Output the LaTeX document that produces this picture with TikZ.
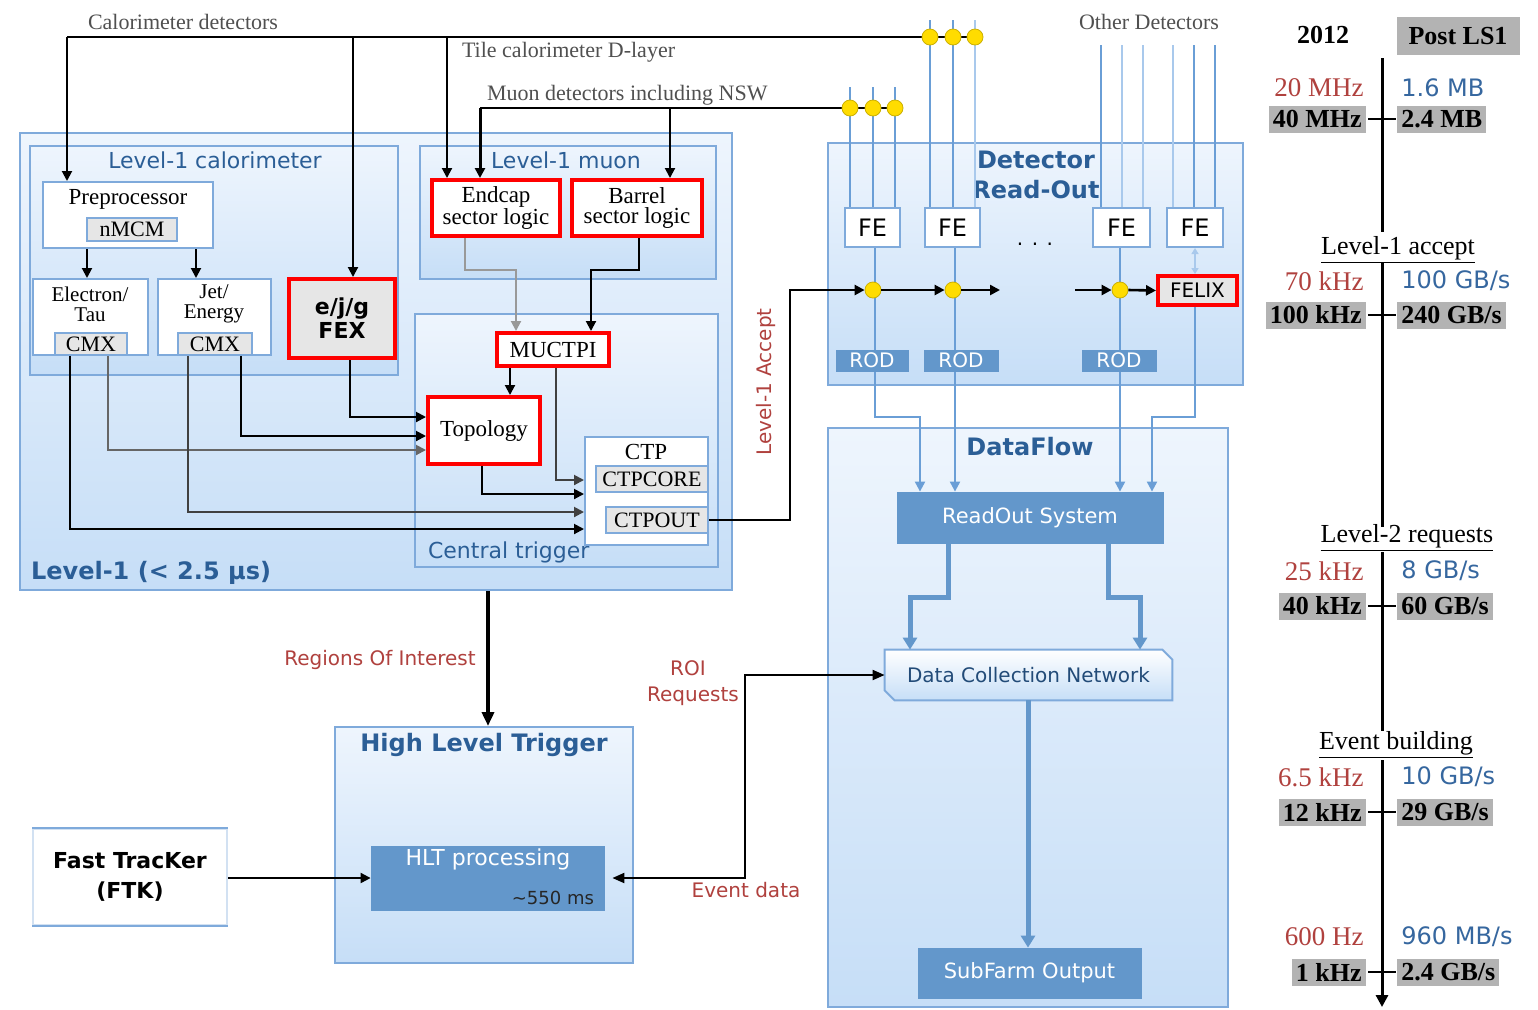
\documentclass[tikz,border=0pt]{standalone}
\usepackage{fontspec}
\setmainfont{Liberation Serif}
\setsansfont{DejaVu Sans}
\usetikzlibrary{arrows.meta,calc}
\definecolor{lbTop}{HTML}{EEF5FD}
\definecolor{lbBot}{HTML}{C6DEF7}
\definecolor{bord}{HTML}{7FAADB}
\definecolor{ttlblue}{HTML}{2B5E96}
\definecolor{solid}{HTML}{6397CB}
\definecolor{labred}{HTML}{B0413E}
\definecolor{numblue}{HTML}{36679F}
\definecolor{gbg}{HTML}{B3B3B3}
\definecolor{ig}{HTML}{E6E6E6}
\definecolor{detl}{HTML}{6A9ED6}
\definecolor{detll}{HTML}{A9C9EC}
\definecolor{dotY}{HTML}{FFDC00}
\definecolor{txtgray}{HTML}{505050}
\newcommand\fs[2]{\fontsize{#1}{#2}\selectfont}
% box from corner (x1,y1) to (x2,y2) in picture pixels
\newcommand\bx[7]{\node[#6,minimum width={(#4-#2)*0.5pt},minimum height={(#5-#3)*0.5pt}] (#1) at ({(#2+#4)/2},{(#3+#5)/2}) {#7};}
\newcommand\raterow[7]{%
  \node[redr,anchor=east] (#7r) at (1364,#1) {#3};
  \node[bluer,anchor=west] (#7b) at (1401,#1) {#4};
  \node[grayr,anchor=east] (#7l) at (1366,#2) {#5};
  \node[grayr,anchor=west] (#7g) at (1397,#2) {#6};
  \draw[line width=1.2pt] (1368,#2) -- (1396,#2);
}
\begin{document}
\begin{tikzpicture}[x=0.5pt,y=-0.5pt,
  grp/.style={draw=bord,line width=1pt,top color=lbTop,bottom color=lbBot,inner sep=0pt},
  wbox/.style={draw=bord,line width=1pt,fill=white,inner sep=0pt},
  gbox/.style={draw=bord,line width=0.8pt,fill=ig,inner sep=0pt,font=\fs{11}{12}},
  rbox/.style={draw=red,line width=2pt,fill=white,inner sep=0pt},
  sbox/.style={fill=solid,draw=solid,inner sep=0pt,text=white},
  btxt/.style={font=\fs{11.5}{10},align=center},
  ttl/.style={font=\sffamily\fs{11}{12},text=ttlblue},
  bttl/.style={font=\sffamily\bfseries\fs{12}{15},text=ttlblue,align=center},
  toplab/.style={font=\fs{11}{12},text=txtgray},
  fetxt/.style={font=\sffamily\fs{12}{12}},
  blk/.style={line width=1pt,draw=black},
  gline/.style={line width=1pt,draw=black!40},
  arr/.style={-{Triangle[length=5pt,width=5pt]}},
  arrB/.style={-{Triangle[length=6pt,width=7pt]}},
  dline/.style={line width=1pt,draw=detl},
  dlight/.style={line width=1pt,draw=detll},
  dfl/.style={line width=2.5pt,draw=solid},
  ydot/.style={circle,fill=dotY,draw=dotY!80!black,line width=0.4pt,minimum size=8pt,inner sep=0pt},
  redl/.style={text=labred,font=\sffamily\fs{10}{12}},
  redr/.style={text=labred,font=\fs{13.5}{14},inner sep=0pt},
  bluer/.style={text=numblue,font=\sffamily\fs{12}{14},inner sep=0pt},
  grayr/.style={fill=gbg,font=\bfseries\fs{13}{14},inner xsep=2pt,inner ysep=0pt,minimum height=13.5pt},
]
\fill[white] (0,0) rectangle (1538,1009);
\useasboundingbox (0,0) rectangle (1538,1009);

% ---------- group boxes
\bx{L1}{20}{133}{732}{590}{grp}{}
\bx{L1c}{30}{146}{398}{375}{grp}{}
\bx{L1m}{420}{146}{716}{279}{grp}{}
\bx{CT}{415}{314}{718}{567}{grp}{}
\bx{DRO}{828}{143}{1243}{385}{grp}{}
\bx{DF}{828}{428}{1228}{1007}{grp}{}
\bx{HLT}{335}{727}{633}{963}{grp}{}

\node[ttl] (tL1c) at (215,160) {Level-1 calorimeter};
\node[ttl] (tL1m) at (566,160) {Level-1 muon};
\node[ttl,anchor=west] (tCT) at (421,552) {Central trigger};
\node[ttl,font=\sffamily\bfseries\fs{12}{14},anchor=west] (tL1) at (24,573) {Level-1 (< 2.5 μs)};
\node[bttl] (tDRO) at (1036,175) {Detector\\Read-Out};
\node[bttl] (tDF) at (1030,447) {DataFlow};
\node[bttl] (tHLT) at (484,745) {High Level Trigger};

% ---------- level-1 calorimeter
\bx{pre}{43}{182}{213}{248}{wbox}{}
\node[btxt] (tpre) at (128,199) {Preprocessor};
\bx{nmcm}{87}{218}{177}{241}{gbox}{nMCM}
\bx{et}{33}{279}{148}{355}{wbox}{}
\node[btxt,font=\fs{10.5}{10}] (tet) at (90,304) {Electron/\\Tau};
\bx{cmx1}{55}{333}{127}{355}{gbox}{CMX}
\bx{je}{158}{279}{271}{355}{wbox}{}
\node[btxt,font=\fs{10.5}{10}] (tje) at (214,304) {Jet/\\Energy};
\bx{cmx2}{178}{333}{252}{355}{gbox}{CMX}
\bx{fex}{289}{279}{395}{358}{rbox,fill=ig,font=\sffamily\bfseries\fs{11}{12},align=center}{e/j/g\\FEX}

% ---------- level-1 muon and central trigger
\bx{endc}{432}{180}{560}{236}{rbox,btxt}{Endcap\\sector logic}
\bx{barr}{572}{180}{702}{236}{rbox,btxt}{Barrel\\sector logic}
\bx{muctpi}{497}{333}{609}{366}{rbox,btxt}{MUCTPI}
\bx{topo}{428}{397}{540}{464}{rbox,btxt}{Topology}
\bx{ctp}{585}{437}{708}{545}{wbox}{}
\node[btxt] (tctp) at (646,452) {CTP};
\bx{ctpcore}{596}{466}{708}{492}{gbox}{CTPCORE}
\bx{ctpout}{606}{507}{708}{533}{gbox}{CTPOUT}

% ---------- top labels
\node[toplab] (lcal) at (183,22) {Calorimeter detectors};
\node[toplab,anchor=west] (ltile) at (455,52) {Tile calorimeter D-layer};
\node[toplab,anchor=west] (lmuon) at (480,95) {Muon detectors including NSW};
\node[toplab] (loth) at (1149,22) {Other Detectors};

% ---------- detector read-out
\bx{fe1}{845}{208}{900}{247}{wbox,fetxt}{FE}
\bx{fe2}{925}{208}{980}{247}{wbox,fetxt}{FE}
\bx{fe3}{1093}{208}{1150}{247}{wbox,fetxt}{FE}
\bx{fe4}{1167}{208}{1223}{247}{wbox,fetxt}{FE}
\node[font=\sffamily\fs{10}{10}] (fedots) at (1035,244) {. . .};

% detector input lines
\foreach \x/\s in {850/dline,873/dline,895/dline} \draw[\s] (\x,87) -- (fe1.north -| \x,0);
\foreach \x/\s in {930/dline,953/dline,975/dlight} \draw[\s] (\x,20) -- (fe2.north -| \x,0);
\foreach \x/\s in {1101/dline,1122/dlight,1143/dlight} \draw[\s] (\x,45) -- (fe3.north -| \x,0);
\foreach \x/\s in {1173/dlight,1194/dline,1215/dline} \draw[\s] (\x,45) -- (fe4.north -| \x,0);

% read-out lines to ROS
\bx{felix}{1158}{276}{1237}{305}{rbox,fill=ig,font=\sffamily\fs{10}{12}}{FELIX}
\bx{ros}{897}{492}{1163}{543}{sbox,font=\sffamily\fs{10.5}{12}}{ReadOut System}
\draw[dline,arr] (fe1.south -| 875,0) -- (875,417) -- (920,417) -- (ros.north -| 920,0);
\draw[dline,arr] (fe2.south -| 955,0) -- (ros.north -| 955,0);
\draw[dline,arr] (fe3.south -| 1120,0) -- (ros.north -| 1120,0);
\draw[dline,arr] (felix.south -| 1195,0) -- (1195,417) -- (1152,417) -- (ros.north -| 1152,0);
\draw[dlight,{Triangle[length=3pt,width=3.5pt]}-{Triangle[length=3pt,width=3.5pt]}] (fe4.south -| 1195,0) -- (felix.north -| 1195,0);
\bx{rod1}{836}{350}{908}{371}{sbox,font=\sffamily\fs{10}{12}}{ROD}
\bx{rod2}{924}{350}{998}{371}{sbox,font=\sffamily\fs{10}{12}}{ROD}
\bx{rod3}{1082}{350}{1156}{371}{sbox,font=\sffamily\fs{10}{12}}{ROD}

% ---------- dataflow
\bx{dcn}{885}{650}{1172}{700}{inner sep=0pt}{}
\path[draw=bord,line width=1pt,top color=white,bottom color=lbBot]
  (dcn.north west) -- ([xshift=-5pt]dcn.north east) -- ([yshift=-5pt]dcn.north east)
  -- (dcn.south east) -- ([xshift=5pt]dcn.south west) -- ([yshift=5pt]dcn.south west) -- cycle;
\node[font=\sffamily\fs{10}{12},text=ttlblue!80!black] (tdcn) at (dcn.center) {Data Collection Network};
\bx{sfo}{918}{948}{1141}{998}{sbox,font=\sffamily\fs{10.5}{12}}{SubFarm Output}
\draw[dfl,arrB] (ros.south -| 948,0) -- (948,597) -- (910,597) -- (dcn.north -| 910,0);
\draw[dfl,arrB] (ros.south -| 1108,0) -- (1108,597) -- (1140,597) -- (dcn.north -| 1140,0);
\draw[dfl,arrB] (dcn.south -| 1028,0) -- (sfo.north -| 1028,0);

% ---------- HLT and FTK
\bx{hltp}{371}{846}{604}{910}{sbox}{}
\node[text=white,font=\sffamily\fs{11}{12}] (thltp) at (488,859) {HLT processing};
\node[font=\sffamily\fs{9}{10},text=black!85,anchor=east] (t550) at (601,898) {\textasciitilde 550 ms};
\bx{ftk}{33}{829}{227}{925}{wbox,draw=bord!35,font=\sffamily\bfseries\fs{11}{15},align=center}{Fast TracKer\\(FTK)}
\draw[bord,line width=1.2pt] (ftk.north west) -- (ftk.north east);
\draw[bord,line width=1.2pt] (ftk.south west) -- (ftk.south east);
\draw[blk,arr] (ftk.east |- 0,878) -- (hltp.west |- 0,878);
\draw[line width=2pt,-{Triangle[length=7pt,width=6pt]}] (L1.south -| 488,0) -- (HLT.north -| 488,0);
\node[redl] (lroi) at (380,660) {Regions Of Interest};
\draw[blk,{Triangle[length=6pt,width=5pt]}-{Triangle[length=6pt,width=5pt]}] ([xshift=4pt]hltp.east) -- (745,878) -- (745,675) -- (dcn.west);
\node[redl] (lroir1) at (688,668) {ROI};
\node[redl] (lroir2) at (693,696) {Requests};
\node[redl] (levd) at (746,890) {Event data};
\node[redl,rotate=90] (ll1a) at (766,382) {Level-1 Accept};

% ---------- top input connectors
\coordinate (c0) at (67,37);
\coordinate (c1) at (353,37);
\coordinate (c2) at (447,37);
\coordinate (m0) at (480,108);
\coordinate (m1) at (670,108);
\draw[blk] (c0) -- (975,37);
\draw[blk,arr] (c0) -- (pre.north -| c0);
\draw[blk,arr] (c1) -- (c1 |- fex.north);
\draw[blk,arr] (c2) -- (c2 |- endc.north);
\draw[blk] (m0) -- (895,108);
\draw[line width=1.5pt,arr] (m0) -- (m0 |- endc.north);
\draw[blk,arr] (m1) -- (m1 |- barr.north);
\node[ydot] (cd1) at (930,37) {};
\node[ydot] (cd2) at (953,37) {};
\node[ydot] (cd3) at (975,37) {};
\node[ydot] (md1) at (850,108) {};
\node[ydot] (md2) at (873,108) {};
\node[ydot] (md3) at (895,108) {};

% ---------- level-1 internal connectors
\draw[blk,arr] (pre.south -| 87,0) -- (et.north -| 87,0);
\draw[blk,arr] (pre.south -| 196,0) -- (je.north -| 196,0);
\draw[gline,arr] (endc.south -| 465,0) -- (465,270) -- (516,270) -- (muctpi.north -| 516,0);
\draw[blk,arr] (barr.south -| 639,0) -- (639,270) -- (591,270) -- (muctpi.north -| 591,0);
\draw[blk,arr] (muctpi.south -| 510,0) -- (topo.north -| 510,0);
\draw[blk,draw=black!75,arr] (muctpi.south -| 556,0) -- (556,480) -- (ctp.west |- 0,480);
\draw[blk,arr] (topo.south -| 482,0) -- (482,494) -- (ctp.west |- 0,494);
\draw[blk,arr] (fex.south -| 350,0) -- (350,417) -- (topo.west |- 0,417);
\draw[blk,arr] (cmx2.south -| 241,0) -- (241,436) -- (topo.west |- 0,436);
\draw[blk,draw=black!60,arr] (cmx1.south -| 108,0) -- (108,450) -- (topo.west |- 0,450);
\draw[blk,draw=black!75,arr] (cmx2.south -| 188,0) -- (188,512) -- (ctp.west |- 0,512);
\draw[blk,arr] (cmx1.south -| 70,0) -- (70,529) -- (ctp.west |- 0,529);

% ---------- level-1 accept distribution
\node[ydot] (ad1) at (873,290) {};
\node[ydot] (ad2) at (953,290) {};
\node[ydot] (ad3) at (1120,290) {};
\coordinate (gapL) at (1000,290);
\coordinate (gapR) at (1075,290);
\draw[line width=1.3pt,arr] (ctpout.east) -- (ctpout.east -| 790,0) -- (790,290) -- (ad1.west);
\draw[line width=1.3pt,arr] (ad1.east) -- (ad2.west);
\draw[line width=1.3pt,arr] (ad2.east) -- (gapL);
\draw[line width=1.3pt,arr] (gapR) -- (ad3.west);
\draw[line width=1.3pt,arr] (ad3.east) -- (felix.west);

% ---------- rate column
\node[font=\bfseries\fs{13}{14}] (y2012) at (1323,35) {2012};
\node[fill=gbg,font=\bfseries\fs{13}{14},minimum width=61.5pt,minimum height=19pt,inner sep=0pt] (pls1) at (1458,36) {Post LS1};
\draw[line width=1.5pt] (1382,58) -- (1382,232);
\draw[line width=1.5pt] (1382,263) -- (1382,527);
\draw[line width=1.5pt] (1382,552) -- (1382,731);
\draw[line width=1.5pt,-{Triangle[length=6pt,width=6pt]}] (1382,760) -- (1382,1007);
\node[font=\fs{13}{14}] (hl1) at (1398,250) {\underline{Level-1 accept}};
\node[font=\fs{13}{14}] (hl2) at (1407,538) {\underline{Level-2 requests}};
\node[font=\fs{13}{14}] (heb) at (1396,745) {\underline{Event building}};
\raterow{88}{119}{20 MHz}{1.6 MB}{40 MHz}{2.4 MB}{ra}
\raterow{281}{315}{70 kHz}{100 GB/s}{100 kHz}{240 GB/s}{rb}
\raterow{571}{606}{25 kHz}{8 GB/s}{40 kHz}{60 GB/s}{rc}
\raterow{777}{812}{6.5 kHz}{10 GB/s}{12 kHz}{29 GB/s}{rd}
\raterow{937}{972}{600 Hz}{960 MB/s}{1 kHz}{2.4 GB/s}{re}
\end{tikzpicture}
\end{document}
